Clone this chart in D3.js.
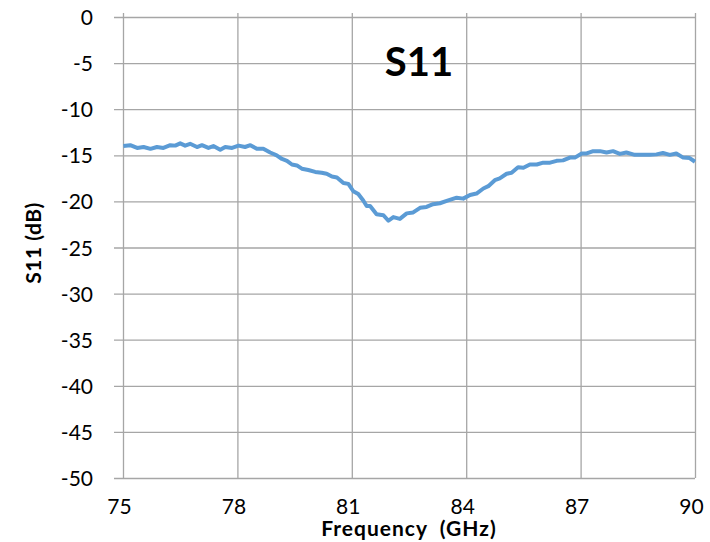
<!DOCTYPE html>
<html>
<head>
<meta charset="utf-8">
<script src="https://cdn.jsdelivr.net/npm/d3@7"></script>
<style>
  body { margin: 0; background: #fff; }
  text { font-family: Lato, "Open Sans", sans-serif; fill: #000; }
</style>
</head>
<body>
<svg id="chart"></svg>
<script>
// readings (GHz, dB)
const freqs = [75.01, 75.19, 75.37, 75.54, 75.72, 75.89, 76.06, 76.24, 76.37, 76.50,
  76.63, 76.76, 76.94, 77.07, 77.24, 77.37, 77.55, 77.68, 77.86, 78.03,
  78.20, 78.34, 78.51, 78.68, 78.86, 79.03, 79.17, 79.30, 79.43, 79.56,
  79.69, 79.86, 80.04, 80.21, 80.34, 80.48, 80.61, 80.78, 80.91, 81.04,
  81.17, 81.30, 81.39, 81.48, 81.65, 81.83, 81.96, 82.09, 82.26, 82.44,
  82.61, 82.79, 82.96, 83.13, 83.31, 83.49, 83.75, 83.92, 84.10, 84.27,
  84.45, 84.58, 84.75, 84.88, 85.06, 85.19, 85.36, 85.50, 85.67, 85.85,
  86.02, 86.20, 86.37, 86.54, 86.72, 86.85, 87.03, 87.16, 87.33, 87.51,
  87.68, 87.85, 88.03, 88.20, 88.42, 88.64, 88.81, 88.99, 89.16, 89.34,
  89.51, 89.69, 89.86, 90.00]
const s11 = [-14.0, -13.9, -14.2, -14.1, -14.3, -14.1, -14.2, -13.9, -13.95, -13.7,
  -13.95, -13.75, -14.1, -13.9, -14.2, -14.0, -14.4, -14.1, -14.2, -13.95,
  -14.1, -13.9, -14.3, -14.3, -14.7, -15.0, -15.4, -15.6, -16.0, -16.1,
  -16.45, -16.6, -16.8, -16.9, -17.0, -17.3, -17.4, -18.0, -18.1, -18.9,
  -19.2, -19.9, -20.5, -20.5, -21.4, -21.5, -22.1, -21.7, -21.9, -21.3,
  -21.2, -20.7, -20.6, -20.3, -20.2, -19.95, -19.6, -19.7, -19.3, -19.15,
  -18.6, -18.35, -17.7, -17.5, -17.0, -16.9, -16.3, -16.35, -16.0, -16.0,
  -15.8, -15.8, -15.6, -15.55, -15.25, -15.25, -14.8, -14.8, -14.55, -14.55,
  -14.7, -14.55, -14.85, -14.7, -14.95, -14.95, -14.95, -14.9, -14.75, -14.95,
  -14.8, -15.25, -15.3, -15.7]

const xTicks = [75, 78, 81, 84, 87, 90]
const yTicks = [0, -5, -10, -15, -20, -25, -30, -35, -40, -45, -50]

const width = 710
const height = 542
const margin = {top: 17, right: 15, bottom: 64, left: 123}
const innerW = width - margin.left - margin.right
const innerH = height - margin.top - margin.bottom

const svg = d3.select('#chart')
  .attr('width', width)
  .attr('height', height)

const x = d3.scaleLinear().domain([75, 90]).range([0, innerW])
const y = d3.scaleLinear().domain([-50, 0]).range([innerH, 0])

const g = svg.append('g')
  .attr('transform', 'translate(' + margin.left + ',' + margin.top + ')')

// horizontal grid, sticking out left like tick marks
const yAxis = g.append('g')
  .call(d3.axisLeft(y).tickValues(yTicks).tickFormat(d => String(d))
    .tickSize(-innerW).tickSizeOuter(0).tickPadding(30))
yAxis.select('.domain').remove()
yAxis.selectAll('.tick line').attr('x1', -9).attr('stroke', '#a6a6a6').attr('stroke-width', 1.3)
yAxis.selectAll('.tick text').style('font-size', '21px').attr('dy', '0.36em')
  .style('font-family', 'Lato, sans-serif')

// vertical grid
const xAxis = g.append('g')
  .attr('transform', 'translate(0,' + innerH + ')')
  .call(d3.axisBottom(x).tickValues(xTicks).tickFormat(d => String(d))
    .tickSize(-innerH - 4).tickSizeOuter(0).tickPadding(0))
xAxis.select('.domain').remove()
xAxis.selectAll('.tick line').attr('stroke', '#a6a6a6').attr('stroke-width', 1.3)
xAxis.selectAll('.tick text').style('font-size', '21px').attr('dx', -4).attr('y', 21)
  .style('font-family', 'Lato, sans-serif')

const points = freqs.map((f, i) => [f, s11[i]])
const line = d3.line()
  .x(d => x(d[0]))
  .y(d => y(d[1]))

g.append('path')
  .datum(points)
  .attr('fill', 'none')
  .attr('stroke', '#5b9bd5')
  .attr('stroke-width', 4)
  .attr('stroke-linejoin', 'round')
  .attr('d', line)

svg.append('text')
  .attr('x', 419)
  .attr('y', 76)
  .attr('text-anchor', 'middle')
  .style('font-size', '40px')
  .attr('font-weight', 'bold')
  .text('S11')

svg.append('text')
  .attr('x', 409)
  .attr('y', 536)
  .attr('text-anchor', 'middle')
  .style('font-size', '21px')
  .style('letter-spacing', '1px')
  .attr('font-weight', 'bold')
  .attr('xml:space', 'preserve')
  .text('Frequency  (GHz)')

svg.append('text')
  .attr('transform', 'translate(41,243) rotate(-90)')
  .attr('text-anchor', 'middle')
  .style('font-size', '21px')
  .style('letter-spacing', '0.5px')
  .attr('font-weight', 'bold')
  .text('S11 (dB)')
</script>
</body>
</html>
